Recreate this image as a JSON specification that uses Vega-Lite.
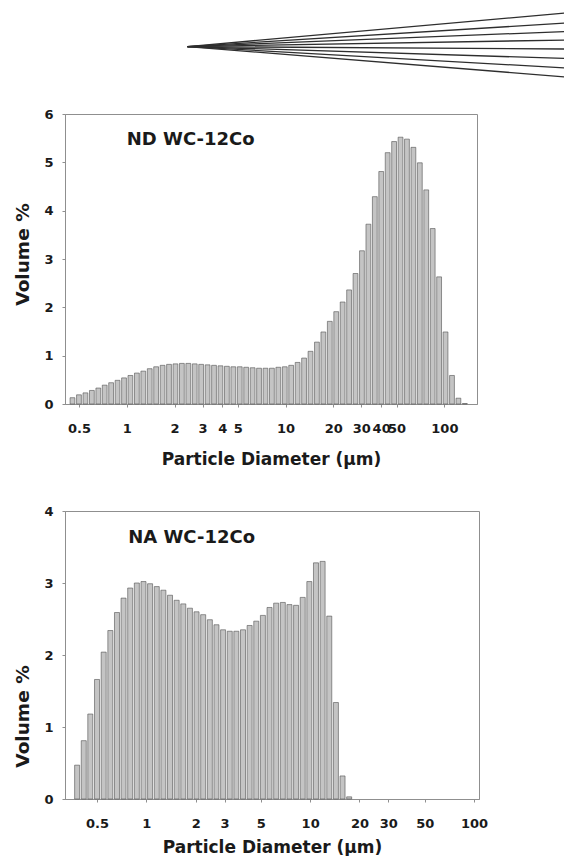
{
  "$schema": "https://vega.github.io/schema/vega-lite/v6.json",
  "padding": {"left": 12, "top": 5, "right": 0, "bottom": 0},
  "background": "white",
  "config": {
    "font": "DejaVu Sans",
    "view": {"stroke": "#8f8f8f", "strokeWidth": 1},
    "axis": {
      "grid": false,
      "domainColor": "#8f8f8f",
      "tickColor": "#8f8f8f",
      "tickSize": 3,
      "labelFont": "DejaVu Sans",
      "labelFontSize": 13,
      "labelFontWeight": "bold",
      "labelColor": "#1a1a1a",
      "titleFont": "DejaVu Sans",
      "titleFontSize": 17,
      "titleFontWeight": "bold",
      "titleColor": "#1a1a1a"
    },
    "axisY": {"titleFontSize": 18.5, "labelPadding": 9, "titlePadding": 11.5},
    "axisX": {"labelPadding": 15}
  },
  "datasets": {
    "fan": [
      {"x1": 0.2445, "y1": 0.48, "x2": 1, "y2": 0.9},
      {"x1": 0.2445, "y1": 0.48, "x2": 1, "y2": 0.775},
      {"x1": 0.2445, "y1": 0.48, "x2": 1, "y2": 0.669},
      {"x1": 0.2445, "y1": 0.48, "x2": 1, "y2": 0.5625},
      {"x1": 0.2445, "y1": 0.48, "x2": 1, "y2": 0.45},
      {"x1": 0.2445, "y1": 0.48, "x2": 1, "y2": 0.331},
      {"x1": 0.2445, "y1": 0.48, "x2": 1, "y2": 0.2125},
      {"x1": 0.2445, "y1": 0.48, "x2": 1, "y2": 0.1}
    ],
    "nd": [
      {"d":0.455,"v":0.13},{"d":0.5,"v":0.19},{"d":0.549,"v":0.23},{"d":0.603,"v":0.28},{"d":0.662,"v":0.33},{"d":0.726,"v":0.39},{"d":0.797,"v":0.44},{"d":0.875,"v":0.49},{"d":0.961,"v":0.54},{"d":1.054,"v":0.59},{"d":1.158,"v":0.64},{"d":1.271,"v":0.68},{"d":1.395,"v":0.73},{"d":1.531,"v":0.77},{"d":1.681,"v":0.8},{"d":1.845,"v":0.82},{"d":2.025,"v":0.83},{"d":2.223,"v":0.84},{"d":2.441,"v":0.84},{"d":2.679,"v":0.83},{"d":2.941,"v":0.82},{"d":3.229,"v":0.81},{"d":3.544,"v":0.8},{"d":3.891,"v":0.79},{"d":4.271,"v":0.78},{"d":4.688,"v":0.77},{"d":5.146,"v":0.77},{"d":5.649,"v":0.76},{"d":6.202,"v":0.75},{"d":6.808,"v":0.74},{"d":7.473,"v":0.74},{"d":8.204,"v":0.74},{"d":9.005,"v":0.76},{"d":9.886,"v":0.77},{"d":10.85,"v":0.8},{"d":11.91,"v":0.86},{"d":13.08,"v":0.95},{"d":14.36,"v":1.09},{"d":15.76,"v":1.28},{"d":17.3,"v":1.49},{"d":18.99,"v":1.71},{"d":20.85,"v":1.91},{"d":22.88,"v":2.11},{"d":25.12,"v":2.36},{"d":27.57,"v":2.7},{"d":30.27,"v":3.17},{"d":33.23,"v":3.72},{"d":36.48,"v":4.29},{"d":40.04,"v":4.81},{"d":43.95,"v":5.2},{"d":48.25,"v":5.43},{"d":52.97,"v":5.52},{"d":58.14,"v":5.48},{"d":63.83,"v":5.31},{"d":70.06,"v":4.99},{"d":76.91,"v":4.43},{"d":84.43,"v":3.63},{"d":92.68,"v":2.63},{"d":101.7,"v":1.49},{"d":111.7,"v":0.59},{"d":122.6,"v":0.12},{"d":134.6,"v":0.01}
    ],
    "na": [
      {"d":0.378,"v":0.47},{"d":0.415,"v":0.81},{"d":0.455,"v":1.18},{"d":0.5,"v":1.66},{"d":0.549,"v":2.04},{"d":0.603,"v":2.34},{"d":0.662,"v":2.59},{"d":0.726,"v":2.79},{"d":0.797,"v":2.93},{"d":0.875,"v":3.0},{"d":0.961,"v":3.02},{"d":1.054,"v":2.99},{"d":1.158,"v":2.95},{"d":1.271,"v":2.9},{"d":1.395,"v":2.83},{"d":1.531,"v":2.76},{"d":1.681,"v":2.71},{"d":1.845,"v":2.65},{"d":2.025,"v":2.6},{"d":2.223,"v":2.56},{"d":2.441,"v":2.49},{"d":2.679,"v":2.42},{"d":2.941,"v":2.35},{"d":3.229,"v":2.33},{"d":3.544,"v":2.33},{"d":3.891,"v":2.35},{"d":4.271,"v":2.41},{"d":4.688,"v":2.47},{"d":5.146,"v":2.55},{"d":5.649,"v":2.66},{"d":6.202,"v":2.72},{"d":6.808,"v":2.73},{"d":7.473,"v":2.7},{"d":8.204,"v":2.69},{"d":9.005,"v":2.8},{"d":9.886,"v":3.02},{"d":10.85,"v":3.28},{"d":11.91,"v":3.3},{"d":13.08,"v":2.54},{"d":14.36,"v":1.34},{"d":15.76,"v":0.32},{"d":17.3,"v":0.03}
    ]
  },
  "spacing": 29,
  "bounds": "flush",
  "vconcat": [
    {
      "width": 501,
      "height": 80,
      "view": {"stroke": null},
      "data": {"name": "fan"},
      "mark": {"type": "rule", "color": "#2e2e2e", "strokeWidth": 1.3},
      "encoding": {
        "x": {"field": "x1", "type": "quantitative", "scale": {"domain": [0, 1], "nice": false, "zero": false}, "axis": null},
        "x2": {"field": "x2"},
        "y": {"field": "y1", "type": "quantitative", "scale": {"domain": [0, 1], "nice": false, "zero": false}, "axis": null},
        "y2": {"field": "y2"}
      }
    },
    {
      "spacing": 107,
      "bounds": "flush",
      "vconcat": [
        {
          "width": 412,
          "height": 290,
          "encoding": {
            "x": {
              "field": "d", "type": "quantitative",
              "scale": {"type": "log", "domain": [0.439, 149.3], "nice": false},
              "axis": {"title": "Particle Diameter (µm)", "values": [0.5, 1, 2, 3, 4, 5, 10, 20, 30, 40, 50, 100], "format": "~g", "labelOverlap": false, "labelFlush": false, "labelBound": false, "titlePadding": 16}
            },
            "y": {
              "field": "v", "type": "quantitative",
              "scale": {"domain": [0, 6], "nice": false},
              "axis": {"title": "Volume %", "values": [0, 1, 2, 3, 4, 5, 6], "format": "d", "titleY": 140}
            }
          },
          "layer": [
            {
              "data": {"name": "nd"},
              "mark": {"type": "bar", "orient": "vertical", "size": 4.8, "fill": "#c4c4c4", "stroke": "#505050", "strokeWidth": 0.6}
            },
            {
              "data": {"values": [{"label": "ND WC-12Co", "d": 1.0, "v": 5.36}]},
              "mark": {"type": "text", "align": "left", "baseline": "alphabetic", "fontSize": 18, "fontWeight": "bold", "color": "#1a1a1a"},
              "encoding": {"text": {"field": "label"}}
            }
          ]
        },
        {
          "width": 414,
          "height": 288,
          "encoding": {
            "x": {
              "field": "d", "type": "quantitative",
              "scale": {"type": "log", "domain": [0.342, 100], "nice": false},
              "axis": {"title": "Particle Diameter (µm)", "values": [0.5, 1, 2, 3, 5, 10, 20, 30, 50, 100], "format": "~g", "labelOverlap": false, "labelFlush": false, "labelBound": false, "titlePadding": 9.5}
            },
            "y": {
              "field": "v", "type": "quantitative",
              "scale": {"domain": [0, 4], "nice": false},
              "axis": {"title": "Volume %", "values": [0, 1, 2, 3, 4], "format": "d", "titleY": 205}
            }
          },
          "layer": [
            {
              "data": {"name": "na"},
              "mark": {"type": "bar", "orient": "vertical", "size": 5, "fill": "#c4c4c4", "stroke": "#505050", "strokeWidth": 0.6}
            },
            {
              "data": {"values": [{"label": "NA WC-12Co", "d": 0.775, "v": 3.56}]},
              "mark": {"type": "text", "align": "left", "baseline": "alphabetic", "fontSize": 18, "fontWeight": "bold", "color": "#1a1a1a"},
              "encoding": {"text": {"field": "label"}}
            }
          ]
        }
      ]
    }
  ]
}
